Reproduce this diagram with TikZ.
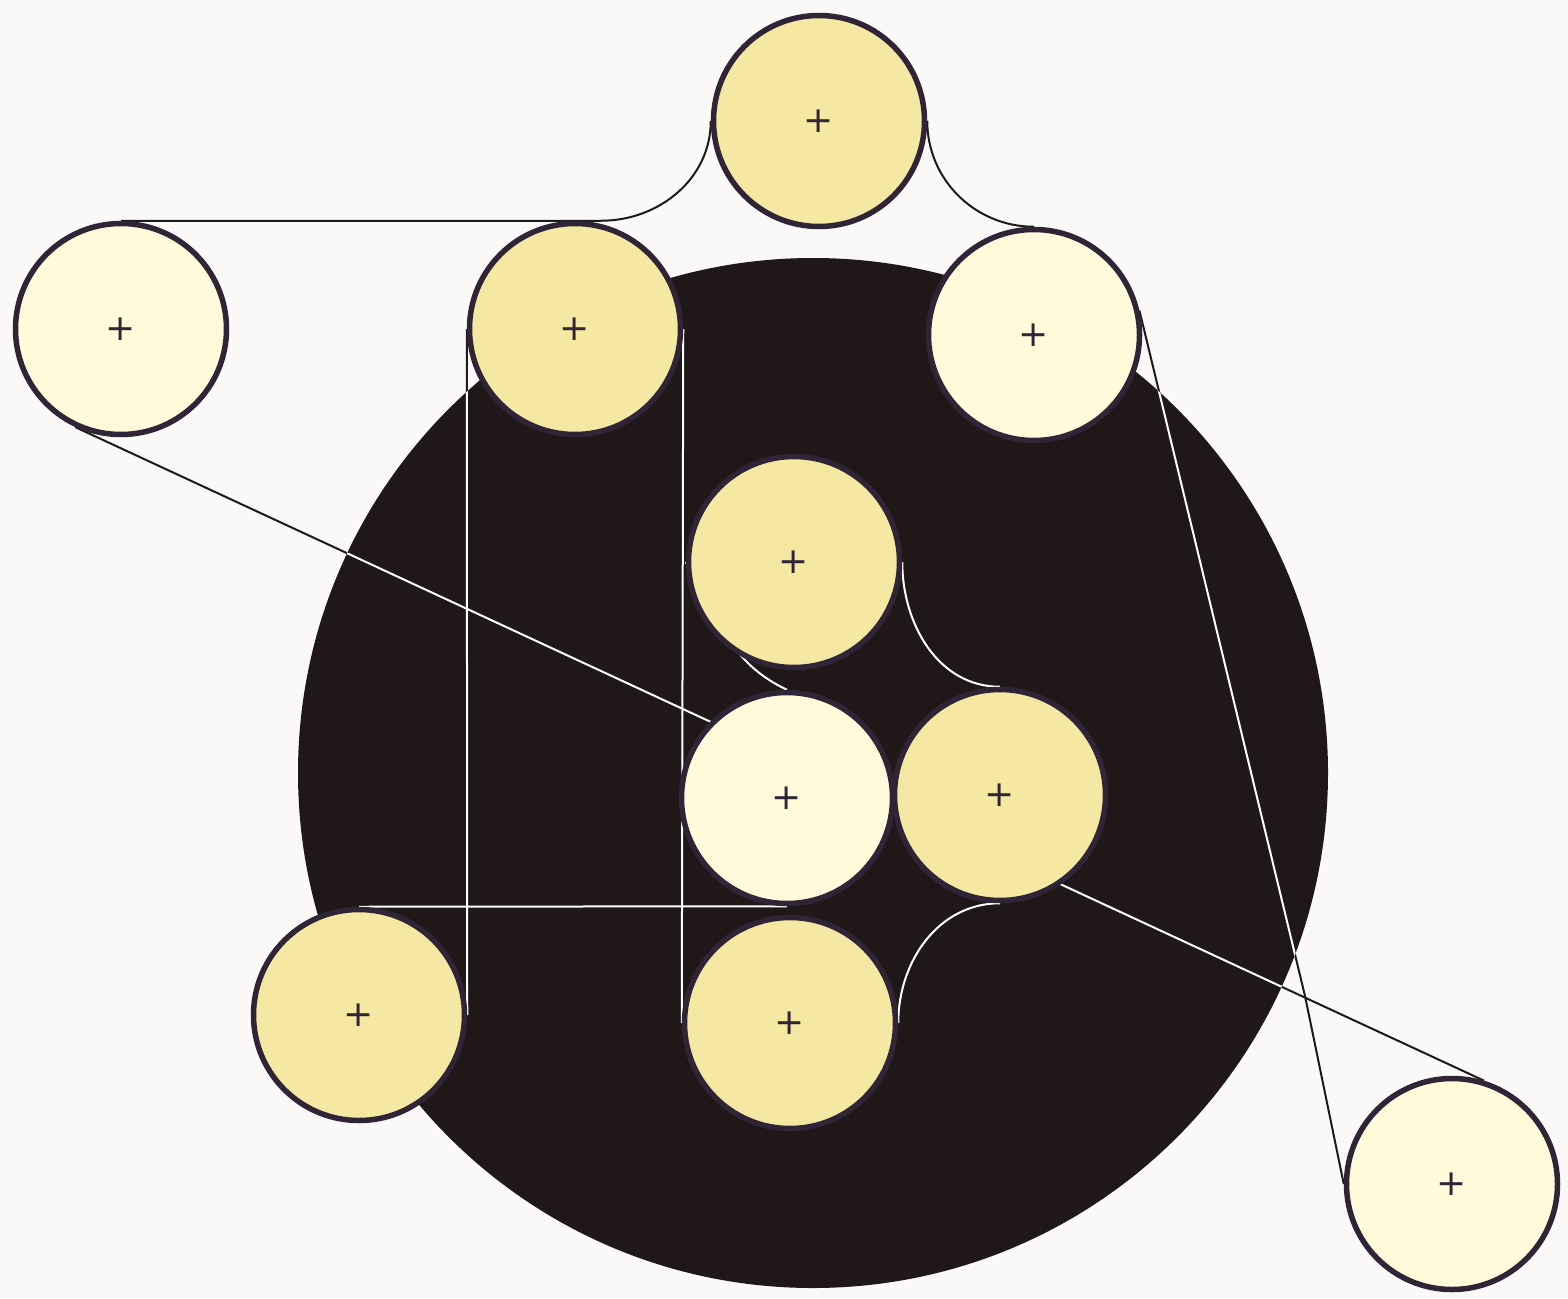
\documentclass[tikz,border=0pt]{standalone}
\usepackage{fontspec}
\newfontfamily\plusfont{DejaVu Sans}

\definecolor{paper}{HTML}{FAF9F7}
\definecolor{ink}{HTML}{201719}
\definecolor{rim}{HTML}{2F2537}
\definecolor{straw}{HTML}{F5E8A2}
\definecolor{cream}{HTML}{FFFBDA}
\definecolor{wire}{HTML}{1C1A1C}

\pgfdeclarelayer{back}
\pgfsetlayers{back,main}

\newcommand{\wires}{%
	\draw (N2.north) -- ++(480,0) to[out=0,in=-90] (N1.west);
	\draw (N1.east) to[out=-90,in=180] (N4.north);
	\draw (N4.13) -- (K) -- (N10.west);
	\draw (N2.245) -- (N10.73);
	\draw (N3.west) -- (N8.east);
	\draw (N3.east) -- (N9.west);
	\draw (N8.north) -- (N6.south);
	\draw (N5.east) to[out=-90,in=180] (N7.north);
	\draw (N5.west) to[out=-60,in=155] (N6.north);
	\draw (N7.south) to[out=180,in=90] (N9.east);
}

\begin{document}
\begin{tikzpicture}[x=1pt,y=-1pt,
	disc/.style={circle,draw=rim,line width=5.5pt,minimum size=211pt,inner sep=0pt,
		text=rim,font=\plusfont\fontsize{36}{36}\selectfont},
	full/.style={disc,fill=straw},
	pale/.style={disc,fill=cream},
	link/.style={line width=2pt}]
	\node[full] (N1) at (819,121) {+};
	\node[pale] (N2) at (121,329) {+};
	\node[full] (N3) at (575,329) {+};
	\node[pale] (N4) at (1034,335) {+};
	\node[full] (N5) at (794,562) {+};
	\node[pale] (N6) at (787,798) {+};
	\node[full] (N7) at (1000,795) {+};
	\node[full] (N8) at (359,1015) {+};
	\node[full] (N9) at (790,1023) {+};
	\node[pale] (N10) at (1452,1184) {+};
	\coordinate (K) at (1305,996);

	\begin{pgfonlayer}{back}
		\fill[paper] (0,0) rectangle (1568,1298);
		\fill[ink] (813,773) circle[radius=515];
		\begin{scope}[link,draw=wire]
			\wires
		\end{scope}
		\begin{scope}
			\clip (813,773) circle[radius=515];
			\begin{scope}[link,draw=white]
				\wires
			\end{scope}
		\end{scope}
	\end{pgfonlayer}
\end{tikzpicture}
\end{document}
